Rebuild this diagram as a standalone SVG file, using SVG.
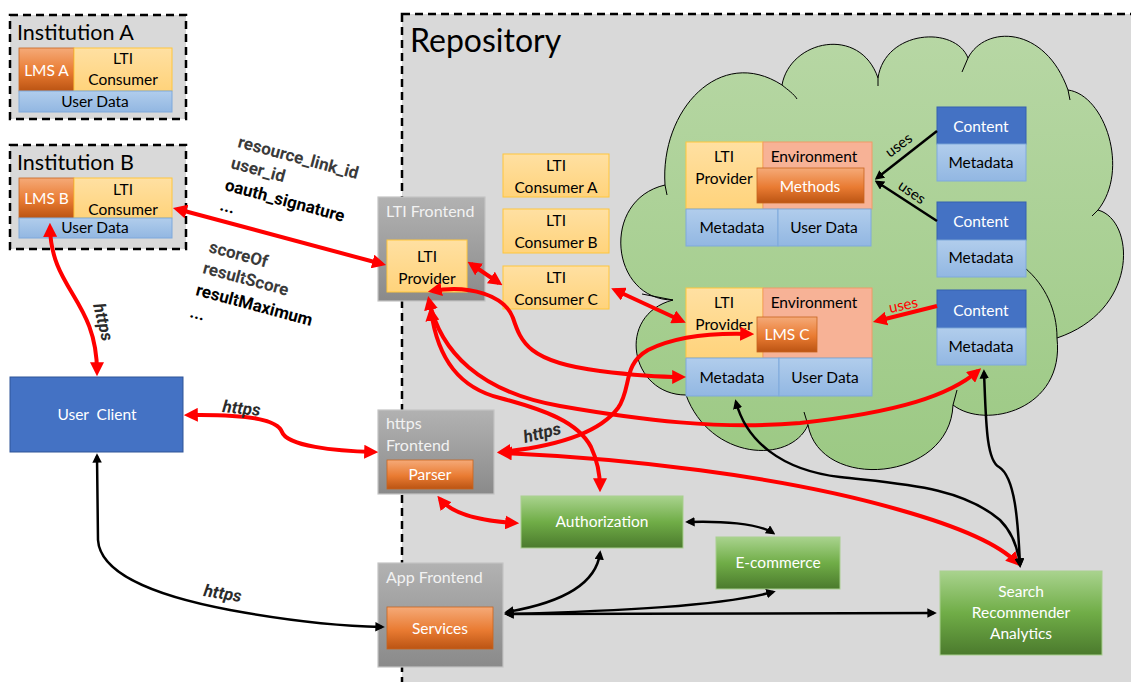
<svg xmlns="http://www.w3.org/2000/svg" width="1131" height="682" viewBox="0 0 1131 682">
<defs>
<linearGradient id="gOr" x1="0" y1="0" x2="0" y2="1"><stop offset="0" stop-color="#f5aa78"/><stop offset="0.55" stop-color="#e97b32"/><stop offset="1" stop-color="#bb5413"/></linearGradient>
<linearGradient id="gYe" x1="0" y1="0" x2="0" y2="1"><stop offset="0" stop-color="#ffe0a2"/><stop offset="1" stop-color="#ffd37b"/></linearGradient>
<linearGradient id="gBl" x1="0" y1="0" x2="0" y2="1"><stop offset="0" stop-color="#b1cdec"/><stop offset="1" stop-color="#92b7e2"/></linearGradient>
<linearGradient id="gGr" x1="0" y1="0" x2="0" y2="1"><stop offset="0" stop-color="#a9d38e"/><stop offset="0.5" stop-color="#70ad47"/><stop offset="1" stop-color="#4b7a2d"/></linearGradient>
<linearGradient id="gGy" x1="0" y1="0" x2="0" y2="1"><stop offset="0" stop-color="#b2b2b2"/><stop offset="1" stop-color="#8a8a8a"/></linearGradient>
<linearGradient id="gCl" x1="0" y1="0" x2="0" y2="1"><stop offset="0" stop-color="#b7d7a4"/><stop offset="1" stop-color="#9cc984"/></linearGradient>
<marker id="mr" viewBox="0 0 10 10" refX="7" refY="5" markerWidth="3.5" markerHeight="3.5" orient="auto-start-reverse"><path d="M0,0 L10,5 L0,10 z" fill="#ff0000"/></marker>
<marker id="mk" viewBox="0 0 10 10" refX="7" refY="5" markerWidth="3.8" markerHeight="3.8" orient="auto-start-reverse"><path d="M0,0 L10,5 L0,10 z" fill="#000"/></marker>
</defs>
<style>
.t{font-family:Lato,"Open Sans","Liberation Sans",sans-serif;font-size:15.5px;text-anchor:middle;fill:#000}
.w{fill:#fff}
.s{text-anchor:start}
.g{fill:#f2f2f2;font-size:16px}
.dash{fill:#d9d9d9;stroke:#000;stroke-width:2.5;stroke-dasharray:8 5}
.or{fill:url(#gOr);stroke:#c7641f;stroke-width:0.8}
.ye{fill:url(#gYe);stroke:#ffc63c;stroke-width:1}
.bl{fill:url(#gBl);stroke:#7fa9dc;stroke-width:1}
.gr{fill:url(#gGr);stroke:#a9cf8f;stroke-width:1}
.gy{fill:url(#gGy);stroke:#c4c4c4;stroke-width:1.2}
.env{fill:#f7b296;stroke:#f19a66;stroke-width:1}
.cb{fill:#4472c4;stroke:#3561b0;stroke-width:1}
.cr{fill:none;stroke:#ff0000;stroke-width:4;marker-start:url(#mr);marker-end:url(#mr)}
.ck{fill:none;stroke:#000;stroke-width:2.5;marker-start:url(#mk);marker-end:url(#mk)}
.lb{font-family:Roboto,"Liberation Sans",sans-serif;font-weight:bold;font-size:17px;fill:#3a3a3a}
.lk{fill:#000}
.ht{font-family:Roboto,"Liberation Sans",sans-serif;font-weight:bold;font-style:italic;font-size:17px;fill:#2b2b2b}
.us{font-family:Lato,"Open Sans",sans-serif;font-size:15px}
</style>

<rect id="repository" class="dash" x="402" y="14" width="760" height="700"/>
<text class="t s" x="410" y="52" style="font-size:32px">Repository</text>

<g id="cloud">
<path d="M673,300 C 610,300 600,200 665,185 C 660,110 720,45 782,85 C 790,40 860,25 878,78 C 885,30 955,25 968,58 C 985,25 1045,25 1068,90 C 1105,95 1130,170 1098,210 C 1135,220 1140,310 1057,338 C 1065,410 985,430 953,405 C 950,482 820,492 808,425 C 790,465 710,460 686,395 C 630,395 615,315 673,300 Z" fill="url(#gCl)" stroke="#000" stroke-width="1"/>
<path d="M782,85 C 788,90 794,94 797,99 M878,78 L878,86 M968,58 L962,72 M1068,90 L1070,100 M1098,210 L1092,216 M1025,268 C 1045,285 1057,310 1057,338 M953,405 L957,390 M808,425 L804,412 M673,300 L642,294 M665,185 L667,195" fill="none" stroke="#000" stroke-width="1"/>
</g>

<g id="institution-a">
<rect class="dash" x="10" y="15" width="176" height="104"/>
<text class="t s" x="17" y="40" style="font-size:21.5px">Institution A</text>
<rect class="or" x="19" y="48" width="55" height="43"/>
<text class="t w" x="46.5" y="76">LMS A</text>
<rect class="ye" x="74" y="48" width="98" height="43"/>
<text class="t" x="123" y="64">LTI</text>
<text class="t" x="123" y="85">Consumer</text>
<rect class="bl" x="19" y="91" width="153" height="21"/>
<text class="t" x="95" y="106.5">User Data</text>
</g>

<g id="institution-b">
<rect class="dash" x="10" y="145" width="176" height="104"/>
<text class="t s" x="17" y="170" style="font-size:21.5px">Institution B</text>
<rect class="or" x="19" y="178" width="55" height="40"/>
<text class="t w" x="46.5" y="204">LMS B</text>
<rect class="ye" x="74" y="178" width="98" height="40"/>
<text class="t" x="123" y="195">LTI</text>
<text class="t" x="123" y="215">Consumer</text>
<rect class="bl" x="19" y="218" width="153" height="20"/>
<text class="t" x="95" y="233">User Data</text>
</g>

<g id="user-client">
<rect x="10" y="377" width="173" height="75" fill="#4472c4" stroke="#2f5597" stroke-width="1"/>
<text class="t w" x="97" y="420" style="white-space:pre">User  Client</text>
</g>

<g id="lti-frontend">
<rect class="gy" x="378" y="197" width="107" height="104"/>
<text class="t s g" x="386" y="217">LTI Frontend</text>
<rect class="ye" x="387" y="240" width="80" height="52"/>
<text class="t" x="427" y="262">LTI</text>
<text class="t" x="427" y="284">Provider</text>
</g>

<g id="lti-consumer-a">
<rect class="ye" x="503" y="154" width="106" height="43"/>
<text class="t" x="556" y="171">LTI</text>
<text class="t" x="556" y="193">Consumer A</text>
</g>
<g id="lti-consumer-b">
<rect class="ye" x="503" y="209" width="106" height="44"/>
<text class="t" x="556" y="226">LTI</text>
<text class="t" x="556" y="248">Consumer B</text>
</g>
<g id="lti-consumer-c">
<rect class="ye" x="503" y="266" width="106" height="43"/>
<text class="t" x="556" y="283">LTI</text>
<text class="t" x="556" y="305">Consumer C</text>
</g>

<g id="https-frontend">
<rect class="gy" x="378" y="410" width="116" height="84"/>
<text class="t s g" x="386" y="429">https</text>
<text class="t s g" x="386" y="451">Frontend</text>
<rect class="or" x="387" y="460" width="86" height="29"/>
<text class="t w" x="430" y="480">Parser</text>
</g>

<g id="app-frontend">
<rect class="gy" x="378" y="563" width="125" height="104"/>
<text class="t s g" x="386" y="583">App Frontend</text>
<rect class="or" x="387" y="607" width="106" height="42"/>
<text class="t w" x="440" y="634">Services</text>
</g>

<g id="authorization">
<rect class="gr" x="521" y="496" width="162" height="52"/>
<text class="t w" x="602" y="527">Authorization</text>
</g>
<g id="e-commerce">
<rect class="gr" x="716" y="537" width="124" height="52"/>
<text class="t w" x="778" y="568">E-commerce</text>
</g>
<g id="search">
<rect class="gr" x="940" y="571" width="162" height="84"/>
<text class="t w" x="1021" y="597">Search</text>
<text class="t w" x="1021" y="618">Recommender</text>
<text class="t w" x="1021" y="639">Analytics</text>
</g>

<g id="tool-methods">
<rect class="ye" x="686" y="142" width="77" height="67"/>
<rect class="env" x="763" y="142" width="109" height="67"/>
<text class="t" x="724" y="162">LTI</text>
<text class="t" x="724" y="184">Provider</text>
<text class="t" x="814" y="162">Environment</text>
<rect class="or" x="757" y="168" width="107" height="35"/>
<text class="t w" x="810" y="192">Methods</text>
<rect class="bl" x="686" y="209" width="92" height="37"/>
<text class="t" x="732" y="233">Metadata</text>
<rect class="bl" x="778" y="209" width="93" height="37"/>
<text class="t" x="824" y="233">User Data</text>
</g>

<g id="tool-lms-c">
<rect class="ye" x="686" y="288" width="77" height="70"/>
<rect class="env" x="763" y="288" width="109" height="70"/>
<text class="t" x="724" y="308">LTI</text>
<text class="t" x="724" y="330">Provider</text>
<text class="t" x="814" y="308">Environment</text>
<rect class="or" x="757" y="317" width="60" height="35"/>
<text class="t w" x="787" y="340">LMS C</text>
<rect class="bl" x="686" y="358" width="93" height="38"/>
<text class="t" x="732" y="383">Metadata</text>
<rect class="bl" x="779" y="358" width="93" height="38"/>
<text class="t" x="825" y="383">User Data</text>
</g>

<g id="content-1">
<rect class="cb" x="937" y="107" width="89" height="37"/>
<text class="t w" x="981" y="132">Content</text>
<rect class="bl" x="937" y="144" width="89" height="37"/>
<text class="t" x="981" y="168">Metadata</text>
</g>
<g id="content-2">
<rect class="cb" x="937" y="202" width="89" height="38"/>
<text class="t w" x="981" y="227">Content</text>
<rect class="bl" x="937" y="240" width="89" height="37"/>
<text class="t" x="981" y="263">Metadata</text>
</g>
<g id="content-3">
<rect class="cb" x="937" y="290" width="89" height="38"/>
<text class="t w" x="981" y="316">Content</text>
<rect class="bl" x="937" y="328" width="89" height="37"/>
<text class="t" x="981" y="352">Metadata</text>
</g>

<g id="connectors">
<path class="cr" d="M177,209 L382,264"/>
<path class="cr" d="M50,227 C 51,290 97,300 97,372"/>
<path class="cr" d="M188,415 C 250,414 278,420 282,432 C 287,446 335,451 374,452"/>
<path class="cr" d="M471,264 L499,283"/>
<path class="cr" d="M615,290 L682,321"/>
<path class="cr" d="M432,291 C 470,284 505,296 513,318 C 521,342 528,362 600,371 C 640,376 662,377 682,377"/>
<path class="cr" d="M429,300 C 440,352 480,392 560,406 C 640,420 720,430 800,423 C 900,412 950,395 978,371"/>
<path class="cr" d="M431,311 C 438,360 460,388 500,398 C 545,410 578,422 591,447 C 598,462 600,475 600,488"/>
<path class="cr" d="M501,452 C 560,446 600,432 618,408 C 632,388 622,365 648,350 C 678,335 720,333 750,334"/>
<path class="cr" d="M502,453 C 620,458 780,475 900,510 C 960,527 1000,545 1017,563"/>
<path class="cr" d="M440,499 C 452,514 482,521 515,523"/>
<path d="M937,306 L877,321" fill="none" stroke="#ff0000" stroke-width="4" marker-end="url(#mr)"/>
<path class="ck" d="M97,456 L98,540 C 100,572 150,595 230,610 C 290,621 340,626 382,627"/>
<path class="ck" d="M688,522 C 720,521 758,523 773,533"/>
<path class="ck" d="M507,612 C 560,603 596,585 600,553"/>
<path class="ck" d="M507,614 C 620,611 720,606 773,592"/>
<path class="ck" d="M507,614 L934,613"/>
<path class="ck" d="M736,402 C 746,440 780,470 840,477 C 900,484 960,486 1000,520 C 1012,532 1018,548 1020,565"/>
<path class="ck" d="M984,372 C 986,420 986,460 999,467 C 1015,477 1018,520 1020,565"/>
<path d="M937,131 L877,178" fill="none" stroke="#000" stroke-width="2.5" marker-end="url(#mk)"/>
<path d="M937,221 L877,182" fill="none" stroke="#000" stroke-width="2.5" marker-end="url(#mk)"/>
</g>

<g id="labels">
<text class="lb" transform="translate(237,147) rotate(15)">resource_link_id</text>
<text class="lb" transform="translate(230,168) rotate(15)">user_id</text>
<text class="lb lk" transform="translate(224,190) rotate(15)">oauth_signature</text>
<text class="lb lk" transform="translate(219,210) rotate(15)">...</text>
<text class="lb" transform="translate(208,252) rotate(15)">scoreOf</text>
<text class="lb" transform="translate(202,273) rotate(15)">resultScore</text>
<text class="lb lk" transform="translate(195,295) rotate(15)">resultMaximum</text>
<text class="lb lk" transform="translate(189,317) rotate(15)">...</text>
<text class="ht" transform="translate(222,412) rotate(6)">https</text>
<text class="ht" transform="translate(203,596) rotate(9)">https</text>
<text class="ht" transform="translate(525,443) rotate(-14)">https</text>
<text class="ht" transform="translate(93,305) rotate(76)">https</text>
<text class="us" transform="translate(890,158) rotate(-37)">uses</text>
<text class="us" transform="translate(897,188) rotate(35)">uses</text>
<text class="us" transform="translate(890,313) rotate(-12)" fill="#ff0000">uses</text>
</g>
</svg>
